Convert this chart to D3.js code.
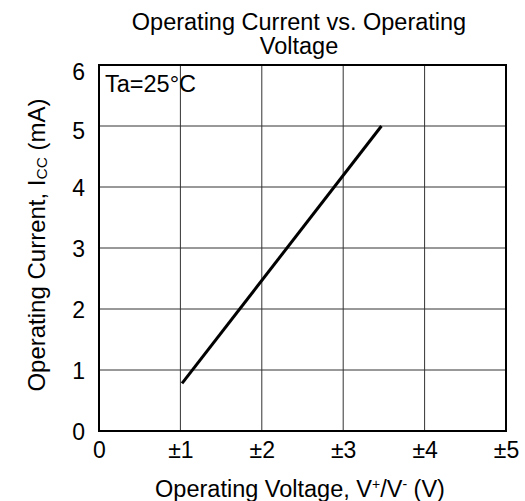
<!DOCTYPE html>
<html><head><meta charset="utf-8">
<script src="https://cdn.jsdelivr.net/npm/d3@7"></script>
<style>body{margin:0;background:#fff}text{font-family:"Liberation Sans",Arial,sans-serif;fill:#000}</style>
</head><body>
<svg id="c" width="525" height="501"></svg>
<script>
const voltage = [1.02, 3.47];
const current = [0.78, 5.0];
const xTicks = [0, 1, 2, 3, 4, 5];
const xTickLabels = ["0", "\u00b11", "\u00b12", "\u00b13", "\u00b14", "\u00b15"];
const yTicks = [0, 1, 2, 3, 4, 5, 6];
const yTickLabels = ["0", "1", "2", "3", "4", "5", "6"];

const svg = d3.select("#c");
const L = 99, R = 506, T = 65, B = 431;
const x = d3.scaleLinear().domain([0, 5]).range([L, R]);
const y = d3.scaleLinear().domain([0, 6]).range([B, T]);

// grid
svg.append("g").selectAll("line").data(xTicks.slice(1, -1)).join("line")
  .attr("x1", d => x(d)).attr("x2", d => x(d)).attr("y1", T).attr("y2", B)
  .attr("stroke", "#333").attr("stroke-width", 1);
svg.append("g").selectAll("line").data(yTicks.slice(1, -1)).join("line")
  .attr("y1", d => y(d)).attr("y2", d => y(d)).attr("x1", L).attr("x2", R)
  .attr("stroke", "#333").attr("stroke-width", 1);

// border
svg.append("rect").attr("x", L).attr("y", T).attr("width", R - L).attr("height", B - T)
  .attr("fill", "none").attr("stroke", "#000").attr("stroke-width", 2);

const FONT = "Liberation Sans, Arial, sans-serif";
const xAxis = d3.axisBottom(x).tickValues(xTicks).tickFormat((d, i) => xTickLabels[i]).tickSize(0).tickPadding(11);
const gx = svg.append("g").attr("transform", `translate(0,${B})`).call(xAxis);
gx.select(".domain").remove();
gx.selectAll("text").style("font-size", "23px").style("font-family", FONT).attr("fill", "#000");

const yAxis = d3.axisLeft(y).tickValues(yTicks).tickFormat((d, i) => yTickLabels[i]).tickSize(0).tickPadding(14);
const gy = svg.append("g").attr("transform", `translate(${L},0)`).call(yAxis);
gy.select(".domain").remove();
gy.selectAll("text").style("font-size", "23px").style("font-family", FONT).attr("fill", "#000")
  .attr("dy", d => d === 6 ? "0.62em" : d === 5 ? "0.55em" : "0.35em");

// data line
const line = d3.line().x(d => x(d[0])).y(d => y(d[1]));
svg.append("path").datum(voltage.map((v, i) => [v, current[i]]))
  .attr("d", line).attr("fill", "none").attr("stroke", "#000").attr("stroke-width", 3);

// title
const title = svg.append("text").attr("text-anchor", "middle").style("font-size", "23.5px");
title.append("tspan").attr("x", 299).attr("y", 30).text("Operating Current vs. Operating");
title.append("tspan").attr("x", 299).attr("y", 54).text("Voltage");

// annotation
svg.append("text").attr("x", 105).attr("y", 92).style("font-size", "23.5px").text("Ta=25\u00b0C");

// x axis title
const xt = svg.append("text").attr("x", 300).attr("y", 497).attr("text-anchor", "middle").style("font-size", "23.5px");
xt.append("tspan").text("Operating Voltage, V");
xt.append("tspan").attr("baseline-shift", "super").style("font-size", "14px").text("+");
xt.append("tspan").text("/V");
xt.append("tspan").attr("baseline-shift", "super").style("font-size", "14px").text("-");
xt.append("tspan").text(" (V)");

// y axis title
const yt = svg.append("text").attr("transform", "translate(45,245) rotate(-90)").attr("text-anchor", "middle").style("font-size", "24px");
yt.append("tspan").text("Operating Current, I");
yt.append("tspan").attr("baseline-shift", "-2").style("font-size", "15.5px").text("CC");
yt.append("tspan").text(" (mA)");
</script>
</body></html>
